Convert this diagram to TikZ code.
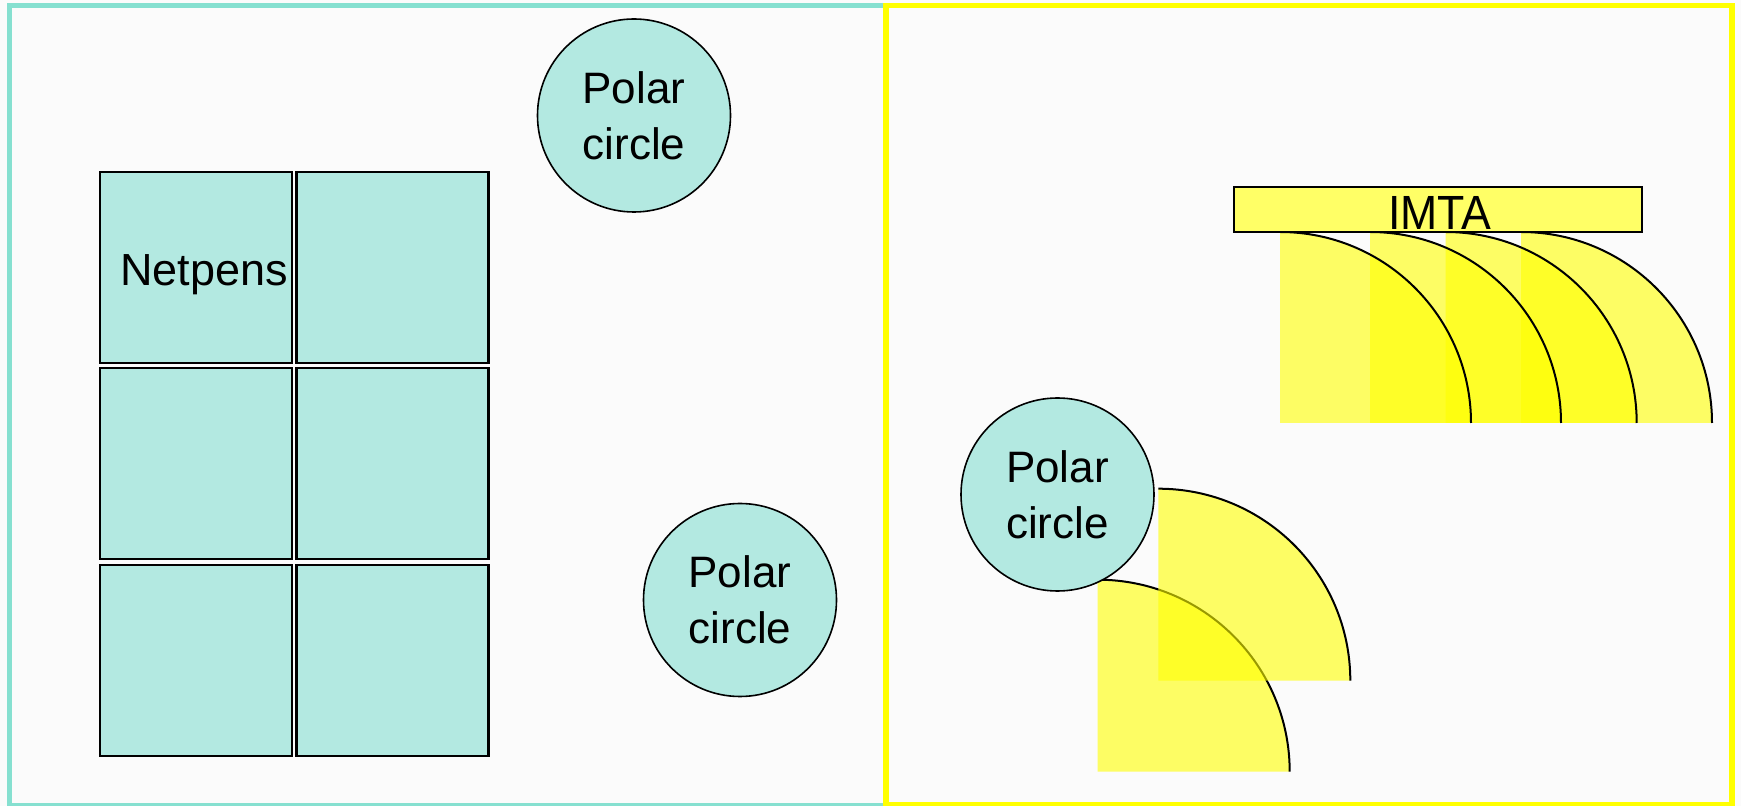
\documentclass[tikz,border=0pt]{standalone}
\usepackage{fontspec}
\setmainfont{Liberation Sans}
\definecolor{tealfill}{RGB}{179,233,225}
\definecolor{tealframe}{RGB}{134,224,208}
\definecolor{bgpaper}{RGB}{251,251,251}
\definecolor{imtafill}{RGB}{255,255,102}
\definecolor{pureyellow}{RGB}{255,255,0}
\begin{document}
\begin{tikzpicture}[x=0.5pt,y=0.5pt,
  penbox/.style={rectangle,draw=black,line width=1.2pt,fill=tealfill,
    minimum width=96pt,minimum height=95.5pt,inner sep=0pt},
  polar/.style={circle,draw=black,line width=0.8pt,fill=tealfill,
    minimum size=96.5pt,inner sep=0pt,align=center,
    font=\fontsize{22}{28}\selectfont},
  labeltext/.style={inner sep=0pt,anchor=base,font=\fontsize{22.5}{28}\selectfont},
  imtabox/.style={rectangle,draw=black,line width=1pt,fill=imtafill,
    minimum width=204pt,minimum height=22.25pt,inner sep=0pt},
  sectfill/.style={fill=pureyellow,fill opacity=0.6},
  arcline/.style={draw=black,line width=1pt},
  tealborder/.style={draw=tealframe,line width=2.5pt},
  yellowborder/.style={draw=pureyellow,line width=2.7pt}]
\useasboundingbox (0,0) rectangle (1741,-806);
\fill[bgpaper] (0,0) rectangle (1741,-806);

% frames
\draw[tealborder] (9,-5.5) rectangle (886,-805);
\draw[yellowborder] (886,-5.5) rectangle (1732,-805);

% netpens grid
\node[penbox] (p11) at (196,-267.5) {};
\node[penbox] (p12) at (392.5,-267.5) {};
\node[penbox] (p21) at (196,-463.5) {};
\node[penbox] (p22) at (392.5,-463.5) {};
\node[penbox] (p31) at (196,-660.5) {};
\node[penbox] (p32) at (392.5,-660.5) {};
\node[labeltext] (netlbl) at (204,-286) {Netpens};

% polar circles (left)
\node[polar] (pc1) at (634,-115.5) {Polar\\circle};
\node[polar] (pc2) at (740,-600) {Polar\\circle};

% IMTA sectors
\coordinate (s1) at (1280,-423);
\coordinate (s2) at (1370,-423);
\coordinate (s3) at (1445.7,-423);
\coordinate (s4) at (1521,-423);
\foreach \c in {s1,s2,s3,s4}
  \fill[sectfill] (\c) -- ++(0,191) arc[start angle=90,end angle=0,radius=191] -- cycle;
\foreach \c in {s1,s2,s3,s4}
  \draw[arcline] (\c) ++(0,191) arc[start angle=90,end angle=0,radius=191];

\node[imtabox] (imta) at (1437.5,-209.5) {};
\node[inner sep=0pt,anchor=base,font=\fontsize{24}{28}\selectfont] (imtalbl) at (1440,-229.5) {\scalebox{0.93}[1]{IMTA}};

% lower sectors
\coordinate (sb) at (1097.7,-771.7);
\coordinate (sa) at (1158.3,-680.7);
\fill[sectfill] (sb) -- ++(0,192) arc[start angle=90,end angle=0,radius=192] -- cycle;
\draw[arcline] (sb) ++(0,192) arc[start angle=90,end angle=0,radius=192];
\fill[sectfill] (sa) -- ++(0,192) arc[start angle=90,end angle=0,radius=192] -- cycle;
\draw[arcline] (sa) ++(0,192) arc[start angle=90,end angle=0,radius=192];

% polar circle (right)
\node[polar] (pc3) at (1057.5,-494.5) {Polar\\circle};
\end{tikzpicture}
\end{document}
